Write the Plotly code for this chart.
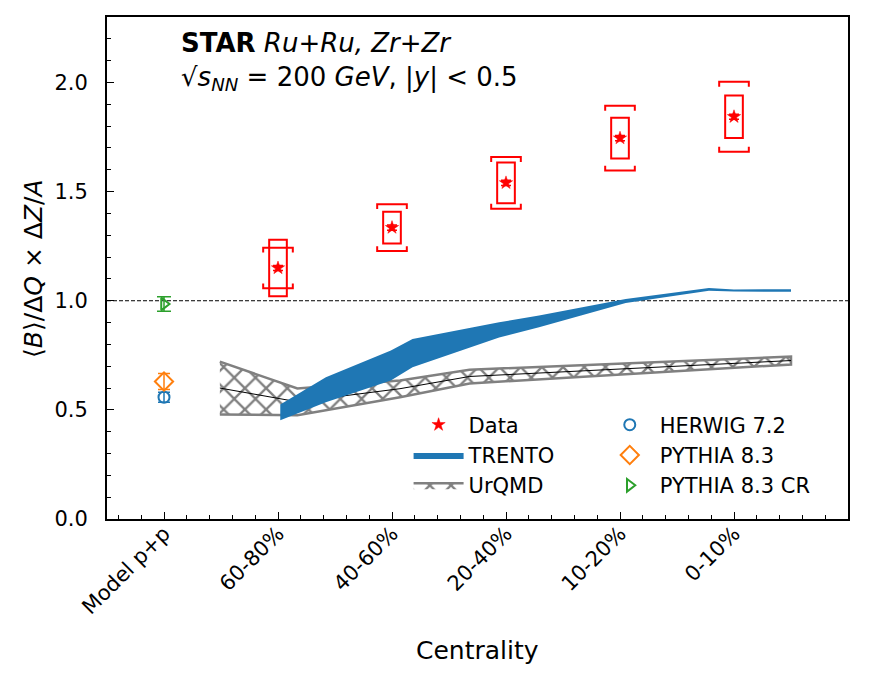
import plotly.graph_objects as go

# categories on the x axis
centrality = ["Model p+p", "60-80%", "40-60%", "20-40%", "10-20%", "0-10%"]
cent_pos = [0, 1, 2, 3, 4, 5]

# STAR data
data_x = [1, 2, 3, 4, 5]
data_y = [1.150, 1.335, 1.540, 1.745, 1.843]
data_stat = [0.012, 0.012, 0.012, 0.012, 0.012]
data_sys_box = [0.130, 0.073, 0.093, 0.093, 0.097]
data_sys_bracket = [0.093, 0.107, 0.118, 0.148, 0.160]

# model p+p points
herwig_y, herwig_err = [0.558], [0.023]
pythia_y, pythia_err = [0.630], [0.037]
pythia_cr_y, pythia_cr_err = [0.985], [0.033]

# TRENTO band
trento_x = [1.02, 1.42, 1.99, 2.18, 2.94, 3.29, 4.05, 4.78, 5.0, 5.5]
trento_hi = [0.525, 0.650, 0.772, 0.825, 0.901, 0.932, 1.008, 1.058, 1.052, 1.053]
trento_lo = [0.452, 0.535, 0.635, 0.695, 0.832, 0.878, 0.990, 1.046, 1.042, 1.041]

# UrQMD band
urqmd_x = [0.49, 1.17, 2.07, 2.68, 5.5]
urqmd_hi = [0.721, 0.598, 0.635, 0.684, 0.744]
urqmd_lo = [0.479, 0.475, 0.558, 0.621, 0.708]
urqmd_mid = [0.600, 0.537, 0.597, 0.653, 0.726]

RED = "#ff0000"
FONT = "DejaVu Sans"

fig = go.Figure()

# UrQMD hatched band
fig.add_trace(go.Scatter(
    x=urqmd_x + urqmd_x[::-1], y=urqmd_hi + urqmd_lo[::-1],
    fill="toself", fillcolor="white", mode="lines",
    line=dict(color="#808080", width=2.5),
    fillpattern=dict(shape="x", fgcolor="black", bgcolor="white", size=15, solidity=0.28),
    name="UrQMD", legend="legend", legendgroup="urqmd", legendrank=3
))
fig.add_trace(go.Scatter(
    x=urqmd_x, y=urqmd_mid, mode="lines",
    line=dict(color="black", width=1), showlegend=False, hoverinfo="skip"
))

# TRENTO band
fig.add_trace(go.Scatter(
    x=trento_x + trento_x[::-1], y=trento_hi + trento_lo[::-1],
    fill="toself", fillcolor="#1f77b4", mode="lines",
    line=dict(color="#1f77b4", width=0),
    name="TRENTO", legend="legend", legendgroup="trento", legendrank=2
))

# systematic boxes
fig.add_trace(go.Bar(
    x=data_x, y=[2 * e for e in data_sys_box],
    base=[y - e for y, e in zip(data_y, data_sys_box)],
    width=0.155, marker=dict(color="rgba(0,0,0,0)", line=dict(color=RED, width=2)),
    showlegend=False, hoverinfo="skip"
))

# systematic brackets
hw, arm = 0.13, 0.022
bx, by = [], []
for xi, yi, e in zip(data_x, data_y, data_sys_bracket):
    top, bot = yi + e, yi - e
    bx += [xi - hw, xi - hw, xi + hw, xi + hw, None, xi - hw, xi - hw, xi + hw, xi + hw, None]
    by += [top - arm, top, top, top - arm, None, bot + arm, bot, bot, bot + arm, None]
fig.add_trace(go.Scatter(x=bx, y=by, mode="lines", line=dict(color=RED, width=2),
                         showlegend=False, hoverinfo="skip"))

# data points
fig.add_trace(go.Scatter(
    x=data_x, y=data_y, mode="markers",
    marker=dict(symbol="star", size=10, color=RED, line=dict(color=RED, width=0.5)),
    error_y=dict(type="data", array=data_stat, color=RED, thickness=1.5, width=5),
    name="Data", legend="legend", legendgroup="data", legendrank=1
))

# model points
fig.add_trace(go.Scatter(
    x=[cent_pos[0]], y=herwig_y, mode="markers",
    marker=dict(symbol="circle-open", size=11, color="#1f77b4", line=dict(width=2)),
    error_y=dict(type="data", array=herwig_err, color="#1f77b4", thickness=1.5, width=6),
    name="HERWIG 7.2", legend="legend2", legendgroup="herwig", legendrank=1
))
fig.add_trace(go.Scatter(
    x=[cent_pos[0]], y=pythia_y, mode="markers",
    marker=dict(symbol="diamond-open", size=14, color="#ff7f0e", line=dict(width=2)),
    error_y=dict(type="data", array=pythia_err, color="#ff7f0e", thickness=1.5, width=6),
    name="PYTHIA 8.3", legend="legend2", legendgroup="pythia", legendrank=2
))
fig.add_trace(go.Scatter(
    x=[cent_pos[0]], y=pythia_cr_y, mode="markers",
    marker=dict(symbol="triangle-right-open", size=11, color="#2ca02c", line=dict(width=2)),
    error_y=dict(type="data", array=pythia_cr_err, color="#2ca02c", thickness=1.5, width=7),
    name="PYTHIA 8.3 CR", legend="legend2", legendgroup="pythiacr", legendrank=3
))

# reference line at 1
fig.add_shape(type="line", xref="paper", x0=0, x1=1, yref="y", y0=1, y1=1,
              line=dict(color="black", width=1, dash="4px,2px"), layer="below")

axis_common = dict(
    showline=True, linecolor="black", linewidth=1.8, mirror=True,
    ticks="inside", tickcolor="black", ticklen=7, tickwidth=1.2,
    showgrid=False, zeroline=False,
    tickfont=dict(family=FONT, size=21, color="black"),
)

fig.update_xaxes(
    range=[-0.5, 6], tickvals=cent_pos, ticktext=centrality, tickangle=-45,
    ticklabelstandoff=-8,
    minor=dict(dtick=0.2, ticks="inside", ticklen=4, tickcolor="black", tick0=0),
    **axis_common
)
fig.update_yaxes(
    range=[0, 2.3], dtick=0.5, tickformat=".1f", ticklabelstandoff=13,
    minor=dict(dtick=0.1, ticks="inside", ticklen=4, tickcolor="black"),
    **axis_common
)

fig.add_annotation(
    xref="paper", yref="paper", x=0.097, y=0.982, xanchor="left", yanchor="top",
    align="left", showarrow=False,
    text="<b>STAR</b> <i>Ru+Ru, Zr+Zr</i><br>√<i>s</i><sub><i>NN</i></sub> = 200 <i>GeV</i>, |<i>y</i>| < 0.5",
    font=dict(family=FONT, size=26, color="black")
)
fig.add_annotation(
    xref="paper", yref="paper", x=0.5, y=-0.262, xanchor="center", yanchor="middle",
    showarrow=False, text="Centrality", font=dict(family=FONT, size=25, color="black")
)
fig.add_annotation(
    xref="paper", yref="paper", x=-0.1, y=0.5, xanchor="center", yanchor="middle",
    showarrow=False, textangle=-90,
    text="⟨<i>B</i>⟩/Δ<i>Q</i> × Δ<i>Z</i>/<i>A</i>",
    font=dict(family=FONT, size=25, color="black")
)

legend_common = dict(
    xanchor="left", yanchor="top", bgcolor="rgba(0,0,0,0)",
    font=dict(family=FONT, size=21, color="black"),
    itemwidth=50, tracegroupgap=5, traceorder="normal",
)
fig.update_layout(
    width=883, height=677,
    margin=dict(l=99, r=43, t=7, b=166),
    plot_bgcolor="white", paper_bgcolor="white",
    font=dict(family=FONT, color="black"),
    barmode="overlay",
    legend=dict(x=0.407, y=0.228, **legend_common),
    legend2=dict(x=0.665, y=0.228, **legend_common),
)

fig.write_html("out.html")
